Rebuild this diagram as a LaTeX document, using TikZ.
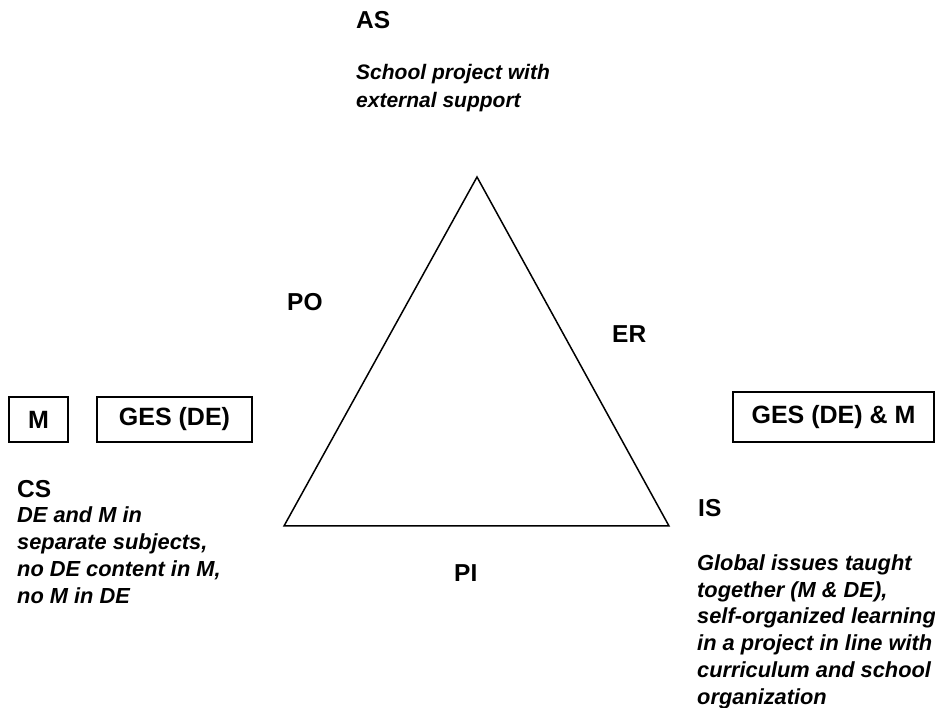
\documentclass[tikz,border=0pt]{standalone}
\usepackage{fontspec}
\setmainfont{Liberation Sans}
\begin{document}
\begin{tikzpicture}[x=1pt,y=-1pt,
  lbl/.style={font=\fontsize{24.5}{27}\selectfont\bfseries, inner sep=0pt, anchor=base west},
  desc/.style={font=\fontsize{21.8}{26.7}\selectfont\bfseries\itshape, inner sep=0pt, anchor=base west, align=left},
  subj/.style={draw, line width=1.5pt, font=\fontsize{25}{27}\selectfont\bfseries, inner sep=0pt},
  tri/.style={line width=1.5pt, line join=miter}]
\useasboundingbox (0,0) rectangle (935,708);
% triangle
\coordinate (A) at (477,177);
\coordinate (B) at (284,526);
\coordinate (C) at (669,526);
\draw[tri] (A) -- (B) -- (C) -- cycle;
% top
\node[lbl] (as) at (356,29) {AS};
\node[desc, font=\fontsize{21}{28}\selectfont\bfseries\itshape] (asd) at (356,108) {School project with\\external support};
% edge labels
\node[lbl] (po) at (287,311) {PO};
\node[lbl] (er) at (612,343) {ER};
\node[lbl] (pi) at (454,581) {PI};
% boxes
\node[subj, minimum width=59pt, minimum height=45pt] (m) at (38.5,419.5) {M};
\node[subj, minimum width=155pt, minimum height=45pt] (ges) at (174.5,419.5) {GES (DE)};
\node[subj, minimum width=201pt, minimum height=50pt] (gesm) at (833.5,417) {GES (DE) \& M};
% left text
\node[lbl] (cs) at (17,497) {CS};
\node[desc] (csd) at (17,603) {DE and M in\\separate subjects,\\no DE content in M,\\no M in DE};
% right text
\node[lbl] (is) at (698,517) {IS};
\node[desc] (isd) at (697,704) {Global issues taught\\together (M \& DE),\\self-organized learning\\in a project in line with\\curriculum and school\\organization};
\end{tikzpicture}
\end{document}
